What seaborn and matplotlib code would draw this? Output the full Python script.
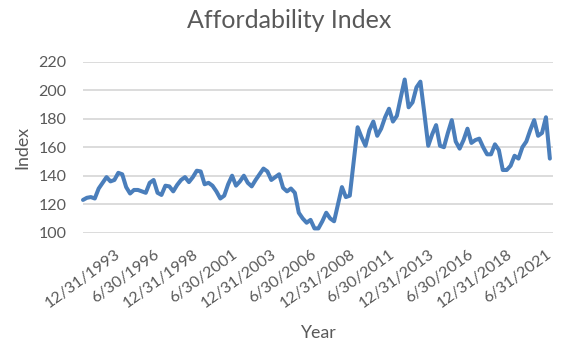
import matplotlib
matplotlib.use("Agg")
import matplotlib.pyplot as plt
import seaborn as sns
import pandas as pd

# Quarterly affordability index (categories are quarter ends, Q1 1991 .. Q2 2021)
index_values = [
    123, 124.5, 125, 124, 131, 135, 139, 136, 137, 142,
    141, 132, 127.5, 130, 130, 129, 128, 135, 137, 128,
    126.5, 133, 132.5, 129, 133.5, 137, 139, 135.5, 139, 143.5,
    143, 134, 135, 133, 129, 124, 126, 134, 140, 133,
    136, 140, 135, 132.5, 137, 141, 145, 143, 137, 139,
    141, 131.5, 129, 131, 128, 114, 110, 107, 109, 103,
    103, 108, 114, 110, 108, 120, 132, 125, 126, 150,
    174, 167, 161, 172, 178, 168, 173, 181, 187, 178,
    182, 195, 207.5, 188, 191.5, 202, 206, 184, 161, 169,
    175.5, 161, 160, 170, 179, 164, 159, 165, 173, 163,
    165, 166, 160, 155, 155, 162, 158, 144, 144, 147,
    154, 152, 160, 164, 172, 179, 168, 170, 181, 152,
]
tick_labels = ["12/31/1993", "6/30/1996", "12/31/1998", "6/30/2001",
               "12/31/2003", "6/30/2006", "12/31/2008", "6/30/2011",
               "12/31/2013", "6/30/2016", "12/31/2018", "6/31/2021"]
y_ticks = [100, 120, 140, 160, 180, 200, 220]
label_every = 10
first_label = 9

df = pd.DataFrame({"quarter": range(len(index_values)), "Index": index_values})

sns.set_theme(style="white")
plt.rcParams["font.family"] = ["Lato", "DejaVu Sans"]

grey = "#595959"
fig = plt.figure(figsize=(5.7, 3.47), dpi=100)
ax = fig.add_axes([83 / 570, 1 - 232.7 / 347, 470 / 570, (232.7 - 61.7) / 347])

sns.lineplot(data=df, x="quarter", y="Index", ax=ax, color="#4a7ebb",
             linewidth=2.9, solid_joinstyle="round", solid_capstyle="round",
             clip_on=False)

ax.set_xlim(0, 119.8)
ax.set_ylim(100, 220)
ax.set_yticks(y_ticks)
ax.set_yticklabels([str(v) for v in y_ticks])
positions = list(range(first_label, len(index_values), label_every))
ax.set_xticks(positions)
ax.set_xticklabels(tick_labels, rotation=36, ha="right", va="center",
                   rotation_mode="anchor")
ax.tick_params(axis="x", length=0, pad=14.5, labelsize=11.5, labelcolor=grey)
ax.tick_params(axis="y", length=0, pad=12, labelsize=11.5, labelcolor=grey)
ax.grid(axis="y", color="#d9d9d9", linewidth=1.3)
ax.grid(axis="x", visible=False)
ax.set_axisbelow(True)
for s in ax.spines.values():
    s.set_visible(False)
ax.set_xlabel("")
ax.set_ylabel("")

fig.text(289 / 570, 1 - 20 / 347, "Affordability Index", ha="center", va="center",
         fontsize=18, color=grey)
fig.text(22 / 570, 1 - 147 / 347, "Index", ha="center", va="center",
         rotation=90, fontsize=12.8, color=grey)
fig.text(318 / 570, 1 - 333 / 347, "Year", ha="center", va="center",
         fontsize=12.8, color=grey)

fig.savefig("out.png", dpi=100, facecolor="white")
